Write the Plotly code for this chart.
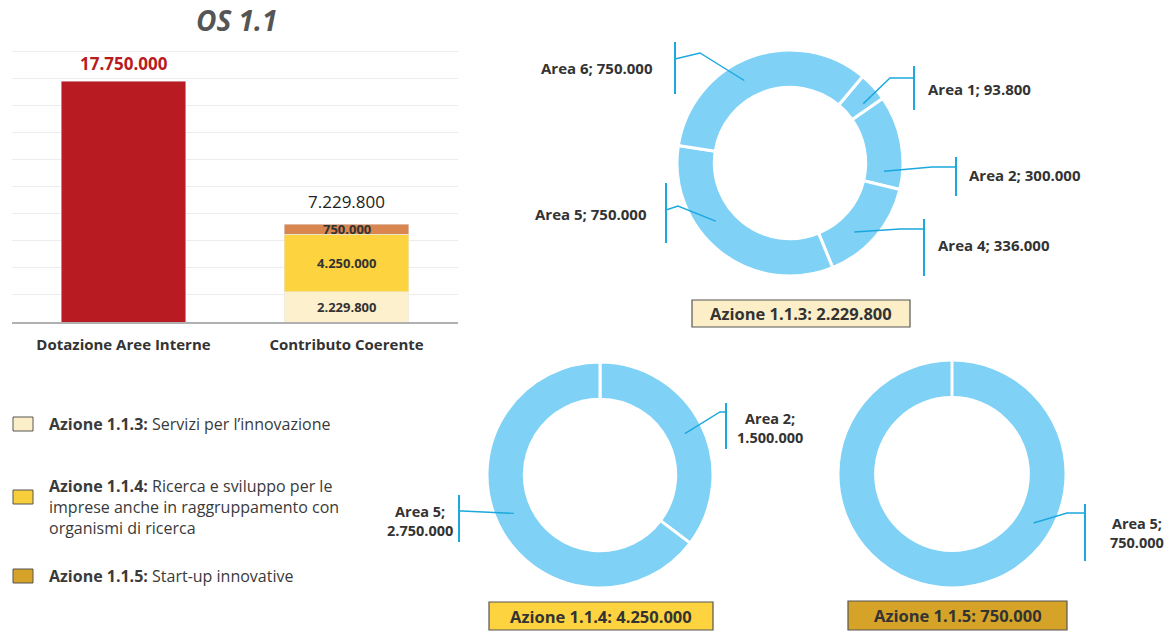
import math
import plotly.graph_objects as go

W, H = 1169, 632
FONT = "Open Sans"

# ---------------- data ----------------
bar_categories = ["Dotazione Aree Interne", "Contributo Coerente"]
dotazione_values = [17750000, None]
azione_113_bar = [None, 2229800]
azione_114_bar = [None, 4250000]
azione_115_bar = [None, 750000]

d113_labels = ["Area 1", "Area 2", "Area 4", "Area 5", "Area 6"]
d113_values = [93800, 300000, 336000, 750000, 750000]
d114_labels = ["Area 2", "Area 5"]
d114_values = [1500000, 2750000]
d115_labels = ["Area 5"]
d115_values = [750000]

legend_titles = ["Azione 1.1.3:", "Azione 1.1.4:", "Azione 1.1.5:"]
legend_texts = ["Servizi per l’innovazione",
                "Ricerca e sviluppo per le<br>imprese anche in raggruppamento con<br>organismi di ricerca",
                "Start-up innovative"]
box_titles = ["Azione 1.1.3", "Azione 1.1.4", "Azione 1.1.5"]

# ---------------- styles ----------------
RED = "#B81C22"
C113 = "#FDF0CC"
C114 = "#FDD33F"
C115_BAR = "#DA8650"
C115 = "#D6A329"
LEG_C113 = "#FCEFC7"
LEG_C114 = "#F9CE3C"
DONUT = "#7FD1F6"
LEADER = "#1BA8DD"
TXT = "#333333"
HOLE = 0.67
YMAX = 20000000
YTOP = 20100000


def fmt(v):
    return f"{v:,}".replace(",", ".")


def px(x):
    return x / W


def py(y):
    return 1 - y / H


fig = go.Figure()

# ---------------- bar chart ----------------
fig.add_trace(go.Bar(x=bar_categories, y=dotazione_values, marker_color=RED,
                     showlegend=False, hoverinfo="skip"))
fig.add_trace(go.Bar(x=bar_categories, y=azione_113_bar, marker_color=C113,
                     showlegend=False, hoverinfo="skip"))
fig.add_trace(go.Bar(x=bar_categories, y=azione_114_bar, marker_color=C114,
                     showlegend=False, hoverinfo="skip"))
fig.add_trace(go.Bar(x=bar_categories, y=azione_115_bar, marker_color=C115_BAR,
                     showlegend=False, hoverinfo="skip"))

annotations = []
shapes = []

annotations.append(dict(x=bar_categories[0], y=dotazione_values[0], xref="x", yref="y",
                        text="<b>" + fmt(dotazione_values[0]) + "</b>", showarrow=False,
                        xanchor="center", yanchor="bottom", yshift=4,
                        font=dict(family=FONT, size=17, color=RED)))
segments = [azione_113_bar[1], azione_114_bar[1], azione_115_bar[1]]
total = sum(segments)
annotations.append(dict(x=bar_categories[1], y=total, xref="x", yref="y",
                        text=fmt(total), showarrow=False, xanchor="center",
                        yanchor="bottom", yshift=9, font=dict(family=FONT, size=17, color="#222")))
cum = 0
for v in segments:
    annotations.append(dict(x=bar_categories[1], y=cum + v / 2, xref="x", yref="y",
                            text="<b>" + fmt(v) + "</b>", showarrow=False,
                            xanchor="center", yanchor="middle",
                            font=dict(family=FONT, size=13, color=TXT)))
    cum += v

# title
annotations.append(dict(x=px(236), y=py(20), xref="paper", yref="paper",
                        xanchor="center", yanchor="middle",
                        text="<b><i>OS 1.1</i></b>", showarrow=False,
                        font=dict(family=FONT, size=28, color="#555555")))

# ---------------- legend ----------------
legend_colors = [LEG_C113, LEG_C114, C115]
legend_sq_y = [424, 497, 576]
legend_txt_y = [424, 507, 576]
for c, sy, ty, t1, t2 in zip(legend_colors, legend_sq_y, legend_txt_y, legend_titles, legend_texts):
    shapes.append(dict(type="rect", xref="paper", yref="paper",
                       x0=px(13), x1=px(33), y0=py(sy + 7), y1=py(sy - 7),
                       fillcolor=c, line=dict(color="#555555", width=1)))
    annotations.append(dict(x=px(47), y=py(ty), xref="paper", yref="paper",
                            xanchor="left", yanchor="middle", align="left", showarrow=False,
                            text="<b>" + t1 + "</b> " + t2,
                            font=dict(family=FONT, size=16, color="#3a3a3a")))

# ---------------- donuts ----------------
donuts = [
    dict(labels=d113_labels, values=d113_values, cx=790, cy=163, r=113, rot=40,
         box=(692, 910, 300, 327), boxcolor=LEG_C113, title=box_titles[0], fs=15),
    dict(labels=d114_labels, values=d114_values, cx=600, cy=475, r=113, rot=0,
         box=(489, 713, 602, 630), boxcolor=C114, title=box_titles[1], fs=14.5),
    dict(labels=d115_labels, values=d115_values, cx=952, cy=474, r=114, rot=0,
         box=(848, 1067, 601, 630), boxcolor=C115, title=box_titles[2], fs=14.5),
]

# leader-line layout per label: anchor angle, elbow point, bar x, bar y-range, text pos
leaders = [
    [  # donut 1
        dict(i=0, ang=51, elbow=(890, 78), bar=(914, 78), bary=(66, 110), tx=926, ty=89, anchor="left", br=False),
        dict(i=1, ang=95, elbow=(932, 167), bar=(956, 167), bary=(157, 196), tx=967, ty=175, anchor="left", br=False),
        dict(i=2, ang=137, elbow=(900, 229), bar=(924, 229), bary=(219, 276), tx=936, ty=245, anchor="left", br=False),
        dict(i=3, ang=232, elbow=(678, 206), bar=(666, 210), bary=(183, 243), tx=649, ty=214, anchor="right", br=False),
        dict(i=4, ang=331, elbow=(700, 53), bar=(675, 59), bary=(42, 94), tx=655, ty=68, anchor="right", br=False),
    ],
    [  # donut 2
        dict(i=0, ang=64, elbow=(720, 412), bar=(726, 412), bary=(403, 449), tx=770, ty=428, anchor="center", br=True),
        dict(i=1, ang=246, elbow=(462, 511), bar=(459, 511), bary=(495, 542), tx=420, ty=521, anchor="center", br=True),
    ],
    [  # donut 3
        dict(i=0, ang=121, elbow=(1067, 513), bar=(1085, 513), bary=(504, 561), tx=1137, ty=533, anchor="center", br=True),
    ],
]

for d, leads in zip(donuts, leaders):
    cx, cy, r = d["cx"], d["cy"], d["r"]
    fig.add_trace(go.Pie(labels=d["labels"], values=d["values"], hole=HOLE, sort=False,
                         direction="clockwise", rotation=d["rot"], textinfo="none",
                         hoverinfo="label+value", showlegend=False,
                         marker=dict(colors=[DONUT] * len(d["values"]),
                                     line=dict(color="white", width=3)),
                         domain=dict(x=[px(cx - r), px(cx + r)], y=[py(cy + r), py(cy - r)])))
    if len(d["values"]) == 1:
        a = math.radians(d["rot"])
        shapes.append(dict(type="line", xref="paper", yref="paper",
                           x0=px(cx + r * HOLE * math.sin(a)), y0=py(cy - r * HOLE * math.cos(a)),
                           x1=px(cx + r * math.sin(a)), y1=py(cy - r * math.cos(a)),
                           line=dict(color="white", width=3)))
    for L in leads:
        a = math.radians(L["ang"])
        rm = r * (1 + HOLE) / 2
        ax, ay = cx + rm * math.sin(a), cy - rm * math.cos(a)
        ex, ey = L["elbow"]
        bx, by = L["bar"]
        path = f"M {px(ax)},{py(ay)} L {px(ex)},{py(ey)} L {px(bx)},{py(by)}"
        shapes.append(dict(type="path", xref="paper", yref="paper", path=path,
                           line=dict(color=LEADER, width=1.4)))
        shapes.append(dict(type="line", xref="paper", yref="paper",
                           x0=px(bx), x1=px(bx), y0=py(L["bary"][0]), y1=py(L["bary"][1]),
                           line=dict(color=LEADER, width=2)))
        lab = d["labels"][L["i"]]
        val = fmt(d["values"][L["i"]])
        text = f"<b>{lab};<br>{val}</b>" if L["br"] else f"<b>{lab}; {val}</b>"
        annotations.append(dict(x=px(L["tx"]), y=py(L["ty"]), xref="paper", yref="paper",
                                xanchor=L["anchor"], yanchor="middle", align="center",
                                showarrow=False, text=text,
                                font=dict(family=FONT, size=d["fs"], color=TXT)))
    # title box
    x0, x1, y0, y1 = d["box"]
    shapes.append(dict(type="rect", xref="paper", yref="paper",
                       x0=px(x0), x1=px(x1), y0=py(y1), y1=py(y0),
                       fillcolor=d["boxcolor"], line=dict(color="#555555", width=1.2)))
    annotations.append(dict(x=px((x0 + x1) / 2), y=py((y0 + y1) / 2), xref="paper", yref="paper",
                            xanchor="center", yanchor="middle", showarrow=False,
                            text=f"<b>{d['title']}: {fmt(sum(d['values']))}</b>",
                            font=dict(family=FONT, size=16.5, color=TXT)))

# bar plot area: baseline at 322 px, 20M gridline at 51 px
plot_h = (322 - 51) * YTOP / YMAX
fig.update_layout(
    width=W, height=H,
    margin=dict(l=0, r=0, t=0, b=0),
    paper_bgcolor="white", plot_bgcolor="white",
    barmode="stack", bargap=0.44,
    xaxis=dict(domain=[px(12), px(458)], showline=True, linecolor="#b0b0b0", linewidth=2,
               ticks="", ticklabelstandoff=8, fixedrange=True,
               tickfont=dict(family=FONT, size=15, color=TXT),
               tickvals=bar_categories,
               ticktext=["<b>" + c + "</b>" for c in bar_categories]),
    yaxis=dict(domain=[py(322), py(322 - plot_h)], range=[0, YTOP], dtick=2000000,
               showticklabels=False, showgrid=True, gridcolor="#ececec", gridwidth=1,
               zeroline=False, fixedrange=True),
    shapes=shapes,
    annotations=annotations,
)

fig.write_html("out.html", config={"displayModeBar": False},
               post_script="document.body.style.margin='0';document.body.style.overflow='hidden';")
